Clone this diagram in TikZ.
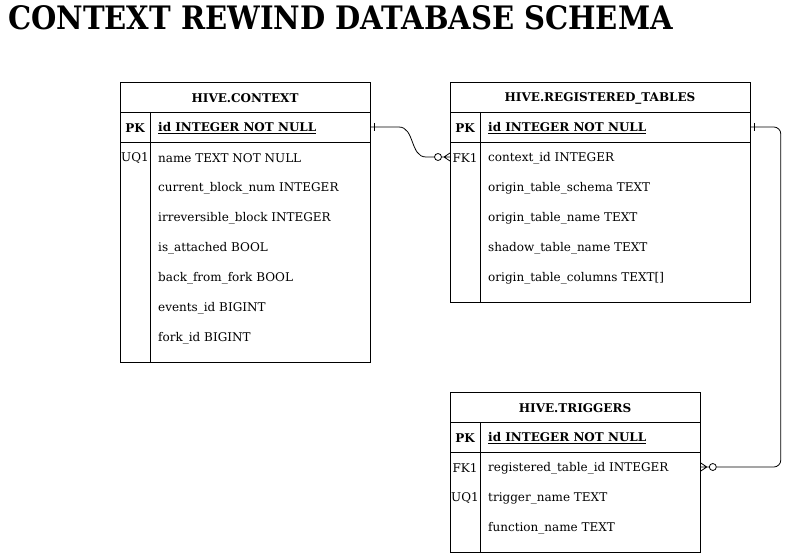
\documentclass[tikz,border=0pt]{standalone}
\usepackage{fontspec}
\setmainfont{DejaVu Serif}
\newfontfamily\titlefont{DejaVu Serif Condensed}
\usetikzlibrary{positioning,calc}

\begin{document}
\begin{tikzpicture}[x=1pt,y=-1pt]
\tikzset{
    tbl/.style={draw,line width=0.8pt,anchor=north west,inner sep=0pt},
    hdr/.style={font=\fontsize{12}{14}\selectfont\bfseries,yshift=-1pt},
    keytxt/.style={font=\fontsize{12}{14}\selectfont,yshift=-1pt},
    fld/.style={anchor=west,inner sep=0pt,font=\fontsize{12}{14}\selectfont,yshift=-1pt},
    rel/.style={line width=0.8pt}
}
\useasboundingbox (0,0) rectangle (790,553);
% title
\node[anchor=west,inner sep=0pt,font=\titlefont\fontsize{32.3}{36}\selectfont\bfseries] (title) at (8,18) {CONTEXT REWIND DATABASE SCHEMA};
% table outlines
\node[tbl,minimum width=250,minimum height=280] (ctx) at (120,82) {};
\node[tbl,minimum width=300,minimum height=220] (reg) at (450,82) {};
\node[tbl,minimum width=250,minimum height=160] (trg) at (450,392) {};
\draw[rel] (120,112) -- (370,112) (120,142) -- (370,142) (150,112) -- (150,362);
\draw[rel] (450,112) -- (750,112) (450,142) -- (750,142) (480,112) -- (480,302);
\draw[rel] (450,422) -- (700,422) (450,452) -- (700,452) (480,422) -- (480,552);
% HIVE.CONTEXT
\node[hdr] at (245,97) {HIVE.CONTEXT};
\node[hdr] at (135,127) {PK};
\node[fld,font=\fontsize{12}{14}\selectfont\bfseries] (ctxid) at (158,127) {\underline{id INTEGER NOT NULL}};
\node[keytxt] at (135,157) {UQ1};
\node[fld] (ctxname) at (158,157) {name TEXT NOT NULL};
\node[fld] at (158,187) {current\_block\_num INTEGER};
\node[fld] at (158,217) {irreversible\_block INTEGER};
\node[fld] at (158,247) {is\_attached BOOL};
\node[fld] at (158,277) {back\_from\_fork BOOL};
\node[fld] at (158,307) {events\_id BIGINT};
\node[fld] at (158,337) {fork\_id BIGINT};
% HIVE.REGISTERED_TABLES
\node[hdr] at (600,97) {HIVE.REGISTERED\_TABLES};
\node[hdr] at (465,127) {PK};
\node[fld,font=\fontsize{12}{14}\selectfont\bfseries] (regid) at (488,127) {\underline{id INTEGER NOT NULL}};
\node[keytxt] at (465,157) {FK1};
\node[fld] (regctx) at (488,157) {context\_id INTEGER};
\node[fld] at (488,187) {origin\_table\_schema TEXT};
\node[fld] at (488,217) {origin\_table\_name TEXT};
\node[fld] at (488,247) {shadow\_table\_name TEXT};
\node[fld] at (488,277) {origin\_table\_columns TEXT[]};
% HIVE.TRIGGERS
\node[hdr] at (575,407) {HIVE.TRIGGERS};
\node[hdr] at (465,437) {PK};
\node[fld,font=\fontsize{12}{14}\selectfont\bfseries] (trgid) at (488,437) {\underline{id INTEGER NOT NULL}};
\node[keytxt] at (465,467) {FK1};
\node[fld] (trgreg) at (488,467) {registered\_table\_id INTEGER};
\node[keytxt] at (465,497) {UQ1};
\node[fld] at (488,497) {trigger\_name TEXT};
\node[fld] at (488,527) {function\_name TEXT};
% relations
\coordinate (a1) at (ctx.east |- 0,127);
\coordinate (b1) at (reg.west |- 0,157);
\coordinate (a2) at (reg.east |- 0,127);
\coordinate (b2) at (trg.east |- 0,467);
\draw[rel] (a1) -- ++(28,0) .. controls +(16,0) and +(-16,0) .. ($(b1)+(-24,0)$) -- ($(b1)+(-15.5,0)$);
\draw[rel] ($(a1)+(4,-4)$) -- ($(a1)+(4,4)$);
\draw[rel] ($(b1)+(-12,0)$) circle (3.5);
\draw[rel] ($(b1)+(-8.5,0)$) -- (b1) ($(b1)+(0,-4)$) -- ($(b1)+(-6,0)$) -- ($(b1)+(0,4)$);
\draw[rel,rounded corners=7] (a2) -- ++(30,0) |- ($(b2)+(15.5,0)$);
\draw[rel] ($(a2)+(4,-4)$) -- ($(a2)+(4,4)$);
\draw[rel] ($(b2)+(12,0)$) circle (3.5);
\draw[rel] ($(b2)+(8.5,0)$) -- (b2) ($(b2)+(0,-4)$) -- ($(b2)+(6,0)$) -- ($(b2)+(0,4)$);
\end{tikzpicture}
\end{document}
